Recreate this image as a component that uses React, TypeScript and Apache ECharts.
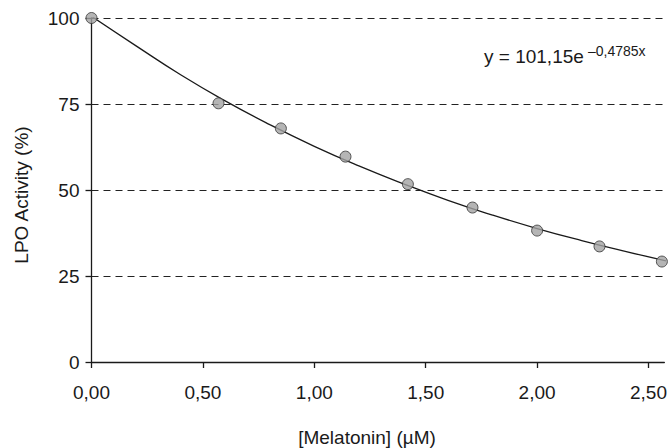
import React, { useEffect, useRef } from "react";
import * as echarts from "echarts";

// Measured points: [Melatonin] (µM) vs LPO activity (%)
const concentrations = [0, 0.57, 0.85, 1.14, 1.42, 1.71, 2.0, 2.28, 2.56];
const activity = [100, 75.2, 67.9, 59.7, 51.7, 44.9, 38.2, 33.6, 29.2];

// Trendline
const trendX = [0, 0.2, 0.4, 0.6, 0.8, 1.0, 1.2, 1.4, 1.6, 1.8, 2.0, 2.2, 2.4, 2.6];
const trendY = [100.5, 91.9, 83.5, 75.9, 69.0, 62.7, 57.0, 51.8, 47.0, 42.7, 38.8, 35.3, 32.1, 29.1];

const yTicks = [0, 25, 50, 75, 100];
const xTickStep = 0.5;
const xMax = 2.571;

const equationMain = "y = 101,15e";
const equationExp = "\u20130,4785x";
const xTitle = "[Melatonin] (\u00b5M)";
const yTitle = "LPO Activity (%)";

const FONT = "Liberation Sans, Arial, sans-serif";
const INK = "#1a1a1a";

export default function App() {
  const ref = useRef<HTMLDivElement>(null);

  useEffect(() => {
    if (!ref.current) return;
    const chart = echarts.init(ref.current, undefined, { renderer: "svg" });
    const fmtX = (v: number) => {
      const r = Math.round(v / xTickStep) * xTickStep;
      if (Math.abs(r - v) > 1e-6) return "";
      return v.toFixed(2).replace(".", ",");
    };
    chart.setOption({
      animation: false,
      backgroundColor: "#ffffff",
      textStyle: { fontFamily: FONT },
      grid: { left: 91.5, right: 0, top: 18, bottom: 86, containLabel: false },
      xAxis: {
        type: "value",
        min: 0,
        max: xMax,
        interval: xTickStep,
        axisLine: { show: true, lineStyle: { color: INK, width: 1.3 } },
        axisTick: { show: true, inside: false, length: 6, lineStyle: { color: INK, width: 1.3 } },
        axisLabel: {
          show: true,
          margin: 21,
          fontSize: 19,
          color: INK,
          fontFamily: FONT,
          formatter: fmtX,
          showMaxLabel: false,
        },
        splitLine: { show: false },
      },
      yAxis: {
        type: "value",
        min: yTicks[0],
        max: yTicks[yTicks.length - 1],
        interval: 25,
        axisLine: { show: true, lineStyle: { color: INK, width: 1.3 } },
        axisTick: { show: true, inside: false, length: 6, lineStyle: { color: INK, width: 1.3 } },
        axisLabel: {
          show: true,
          margin: 12,
          fontSize: 19,
          color: INK,
          fontFamily: FONT,
        },
        splitLine: {
          show: true,
          lineStyle: { color: "#222222", width: 1.2, type: [7, 5] },
        },
      },
      graphic: [
        {
          type: "text",
          left: 484,
          top: 47,
          style: { text: equationMain, fontSize: 19, fill: INK, fontFamily: FONT },
        },
        {
          type: "text",
          left: 588,
          top: 44,
          style: { text: equationExp, fontSize: 14, fill: INK, fontFamily: FONT },
        },
        {
          type: "text",
          x: 367,
          y: 437,
          style: {
            text: xTitle,
            fontSize: 19,
            fill: INK,
            fontFamily: FONT,
            align: "center",
            verticalAlign: "middle",
          },
        },
        {
          type: "text",
          x: 21,
          y: 195,
          rotation: Math.PI / 2,
          style: {
            text: yTitle,
            fontSize: 19,
            fill: INK,
            fontFamily: FONT,
            align: "center",
            verticalAlign: "middle",
          },
        },
      ],
      series: [
        {
          type: "line",
          data: trendX.map((x, i) => [x, trendY[i]]),
          smooth: true,
          showSymbol: false,
          symbol: "none",
          lineStyle: { color: INK, width: 1.3 },
          clip: true,
          z: 2,
        },
        {
          type: "scatter",
          data: concentrations.map((x, i) => [x, activity[i]]),
          symbol: "circle",
          symbolSize: 11,
          clip: false,
          itemStyle: { color: "#a3a3a3", borderColor: "#333333", borderWidth: 1 },
          z: 3,
        },
      ],
    });
    return () => chart.dispose();
  }, []);

  return (
    <div
      ref={ref}
      style={{ position: "fixed", left: 0, top: 0, width: 670, height: 448, background: "#fff" }}
    />
  );
}
